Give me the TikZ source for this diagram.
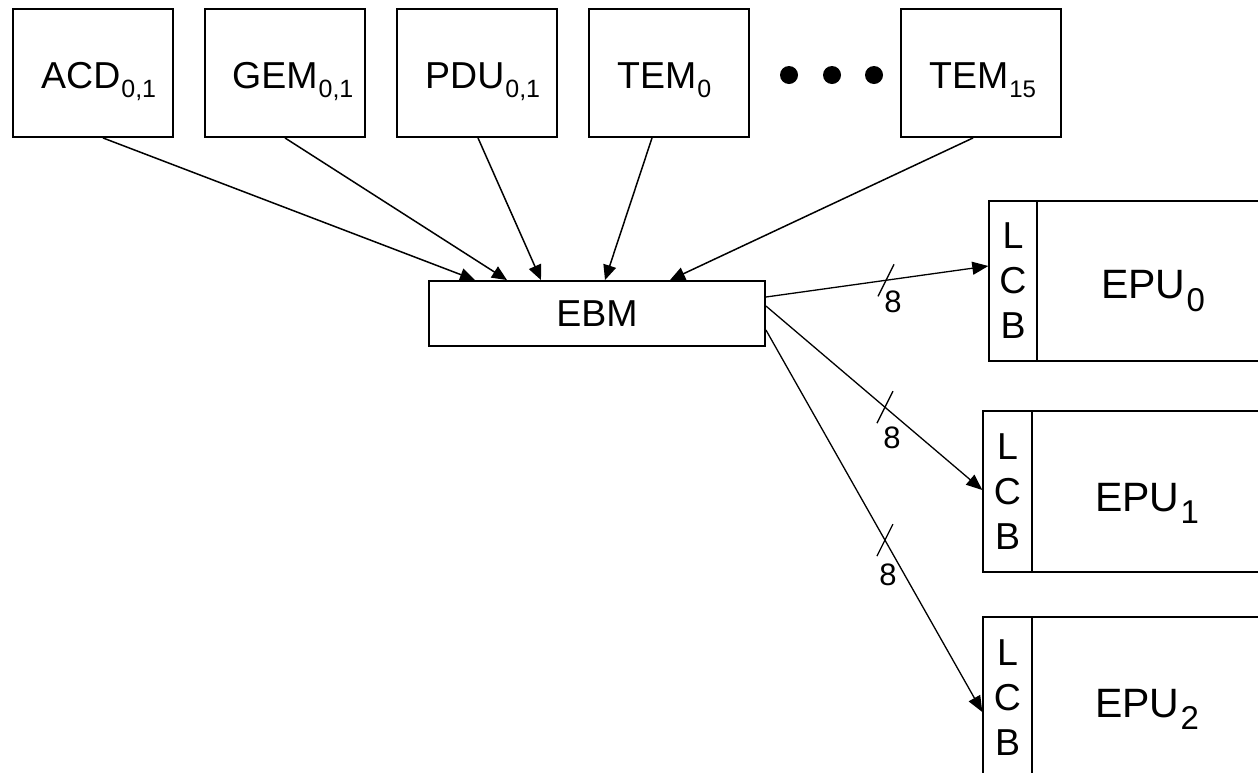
\documentclass[tikz,border=0pt]{standalone}
\usepackage{fontspec}
\setmainfont{Liberation Sans}
\usetikzlibrary{arrows.meta,calc}
\newcommand\lblfont{\fontsize{37.5}{45}\selectfont}
\newcommand\epufont{\fontsize{41}{45}\selectfont}
\newcommand\numfont{\fontsize{31}{31}\selectfont}
\newcommand\sbt[3]{\kern1pt\raisebox{-#2pt}[0pt][0pt]{\fontsize{#1}{#1}\selectfont #3}}
\begin{document}
\begin{tikzpicture}[x=1pt,y=-1pt,
  topbox/.style={draw,line width=1.9pt,minimum width=160pt,minimum height=128pt,inner sep=0pt},
  ebmbox/.style={draw,line width=1.9pt,minimum width=336pt,minimum height=65pt,inner sep=0pt,font=\lblfont},
  lcbbox/.style={draw,line width=1.4pt,minimum height=160pt,inner sep=0pt,align=center,font=\lblfont},
  epubox/.style={draw,line width=1.4pt,minimum width=240pt,minimum height=160pt,inner sep=0pt},
  lbl/.style={inner sep=0pt,anchor=base west,font=\lblfont},
  epulbl/.style={inner sep=0pt,anchor=base west,font=\epufont},
  num/.style={inner sep=0pt,font=\numfont},
  conn/.style={line width=1.5pt,-{Triangle[length=15pt,width=13pt]}},
  bus/.style={line width=1.3pt,-{Triangle[length=16pt,width=13pt]}},
  tick/.style={line width=1.3pt},
  dot/.style={fill,circle,minimum size=18pt,inner sep=0pt}]
\useasboundingbox (0,0) rectangle (1258,772);
\begin{scope}
\clip (0,0) rectangle (1258,772);
% top boxes
\node[topbox] (acd) at (93,73) {};
\node[topbox] (gem) at (285,73) {};
\node[topbox] (pdu) at (477,73) {};
\node[topbox] (tem0) at (669,73) {};
\node[topbox] (tem15) at (981,73) {};
\node[lbl] (acdt) at (41,88) {ACD\sbt{25}{9}{0,1}};
\node[lbl] (gemt) at (232,88) {GEM\sbt{25}{9}{0,1}};
\node[lbl] (pdut) at (425,88) {PDU\sbt{25}{9}{0,1}};
\node[lbl] (tem0t) at (617,88) {TEM\sbt{25}{9}{0}};
\node[lbl] (tem15t) at (929,88) {TEM\sbt{24}{9}{15}};
% dots
\node[dot] (d1) at (789,75) {};
\node[dot] (d2) at (832,75) {};
\node[dot] (d3) at (874,75) {};
% EBM
\node[ebmbox] (ebm) at (597,313.5) {EBM};
% EPUs
\node[lcbbox,minimum width=48pt] (lcb0) at (1013,281) {L\\C\\B};
\node[epubox] (epu0) at (1157,281) {};
\node[epulbl] (epu0t) at (1101,298) {EPU\sbt{33}{13}{0}};
\node[lcbbox,minimum width=49pt,minimum height=161pt] (lcb1) at (1007.5,491.5) {L\\C\\B};
\node[epubox,minimum height=161pt] (epu1) at (1152,491.5) {};
\node[epulbl] (epu1t) at (1095,511) {EPU\sbt{33}{12}{1}};
\node[lcbbox,minimum width=49pt,minimum height=161pt] (lcb2) at (1007.5,697.5) {L\\C\\B};
\node[epubox,minimum height=161pt] (epu2) at (1152,697.5) {};
\node[epulbl] (epu2t) at (1095,717) {EPU\sbt{33}{12}{2}};
% connectors into EBM
\draw[conn] ($(acd.south)+(10,0)$) -- ($(ebm.north)+(-122,0)$);
\draw[conn] ($(gem.south)+(0,0)$) -- ($(ebm.north)+(-90,0)$);
\draw[conn] ($(pdu.south)+(1,0)$) -- ($(ebm.north)+(-56,0)$);
\draw[conn] ($(tem0.south)+(-17,0)$) -- ($(ebm.north)+(8,0)$);
\draw[conn] ($(tem15.south)+(-8,0)$) -- ($(ebm.north)+(73,0)$);
% buses out of EBM
\draw[bus] ($(ebm.east)+(0,-16.5)$) -- coordinate[pos=0.54] (m0) ($(lcb0.west)+(0,-15)$);
\draw[bus] ($(ebm.east)+(0,-7.5)$) -- coordinate[pos=0.55] (m1) ($(lcb1.west)+(0,-1.5)$);
\draw[bus] ($(ebm.east)+(0,16.5)$) -- coordinate[pos=0.55] (m2) ($(lcb2.west)+(0,14.5)$);
\draw[tick] ($(m0)+(-8,16)$) -- ($(m0)+(8,-16)$);
\draw[tick] ($(m1)+(-8,16)$) -- ($(m1)+(8,-16)$);
\draw[tick] ($(m2)+(-8,16)$) -- ($(m2)+(8,-16)$);
\node[num] (n0) at ($(m0)+(7,22)$) {8};
\node[num] (n1) at ($(m1)+(7,31)$) {8};
\node[num] (n2) at ($(m2)+(3,35)$) {8};
\end{scope}
\end{tikzpicture}
\end{document}
